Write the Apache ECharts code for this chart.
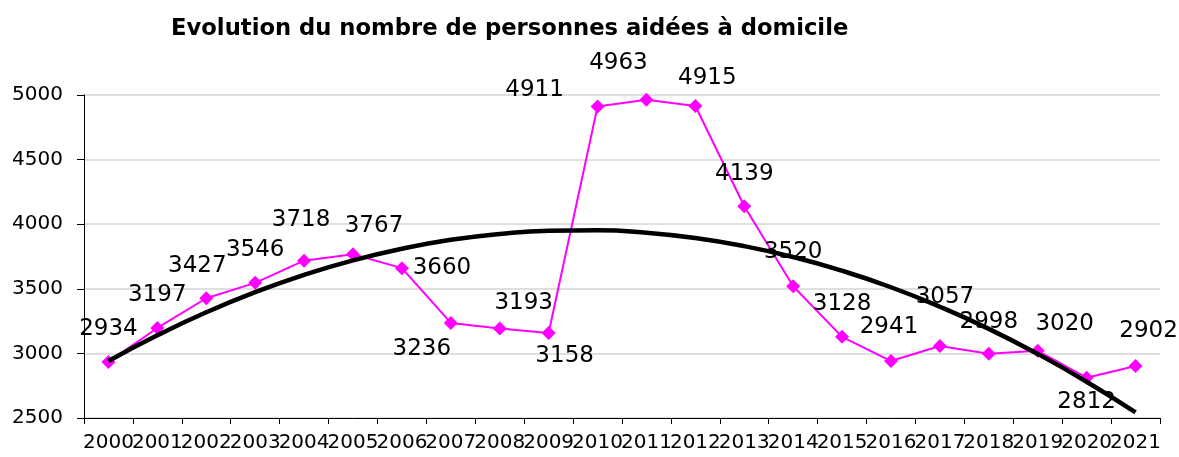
<!DOCTYPE html>
<html><head><meta charset="utf-8">
<script src="https://cdn.jsdelivr.net/npm/echarts@6/dist/echarts.min.js"></script>
<style>html,body{margin:0;padding:0;background:#fff}#c{width:1179px;height:457px}</style>
</head><body><div id="c"></div>
<script>
const titleText = 'Evolution du nombre de personnes aidées à domicile';
const years = ['2000','2001','2002','2003','2004','2005','2006','2007','2008','2009','2010','2011','2012','2013','2014','2015','2016','2017','2018','2019','2020','2021'];
const personnes = [2934,3197,3427,3546,3718,3767,3660,3236,3193,3158,4911,4963,4915,4139,3520,3128,2941,3057,2998,3020,2812,2902];
const tendance = [2941,3140,3318,3474,3608,3720,3810,3879,3925,3950,3953,3934,3893,3830,3746,3640,3512,3361,3190,2996,2781,2543];
const yTicks = {min: 2500, max: 5000, interval: 500};
const labelOffsets = [[0,-33],[0,-33],[-9,-32],[0,-33],[-3,-41],[21,-28],[40,0],[-29,26],[24,-25],[16,23],[-63,-16],[-28,-37],[12,-28],[0,-32],[0,-34],[0,-33],[-2,-34],[5,-49],[0,-32],[27,-27],[0,24],[13,-35]];

const FONT = 'DejaVu Sans';
const chart = echarts.init(document.getElementById('c'), null, {renderer: 'canvas'});
chart.setOption({
  animation: false,
  backgroundColor: '#fff',
  title: {
    text: titleText, left: 166, top: 13,
    textStyle: {fontFamily: FONT, fontSize: 22.7, fontWeight: 'bold', color: '#000'}
  },
  grid: {left: 84, right: 19, top: 95, bottom: 39, containLabel: false},
  xAxis: {
    type: 'category', data: years, boundaryGap: true,
    axisLine: {lineStyle: {color: '#000', width: 1}},
    axisTick: {show: true, length: 6, alignWithLabel: false, lineStyle: {color: '#000'}},
    axisLabel: {fontFamily: FONT, fontSize: 20, color: '#000', margin: 15, interval: 0}
  },
  yAxis: {
    type: 'value', min: yTicks.min, max: yTicks.max, interval: yTicks.interval,
    axisLine: {show: true, lineStyle: {color: '#000', width: 1}},
    axisTick: {show: true, length: 7, lineStyle: {color: '#000'}},
    splitLine: {show: true, lineStyle: {color: '#d4d4d4', width: 1.5}},
    axisLabel: {fontFamily: FONT, fontSize: 20, color: '#000', margin: 21, formatter: v => String(v)}
  },
  series: [
    {
      type: 'line', name: 'Personnes aidées', z: 2,
      data: personnes.map((v, i) => ({
        value: v,
        label: {offset: labelOffsets[i]}
      })),
      symbol: 'diamond', symbolSize: 14,
      lineStyle: {color: '#ff00ff', width: 2},
      itemStyle: {color: '#ff00ff'},
      label: {show: true, position: 'inside', fontFamily: FONT, fontSize: 23, color: '#000'}
    },
    {
      type: 'line', name: 'Tendance', z: 3,
      data: tendance, smooth: true, symbol: 'none',
      lineStyle: {color: '#000', width: 4.5},
      silent: true
    }
  ]
});
</script>
</body></html>
